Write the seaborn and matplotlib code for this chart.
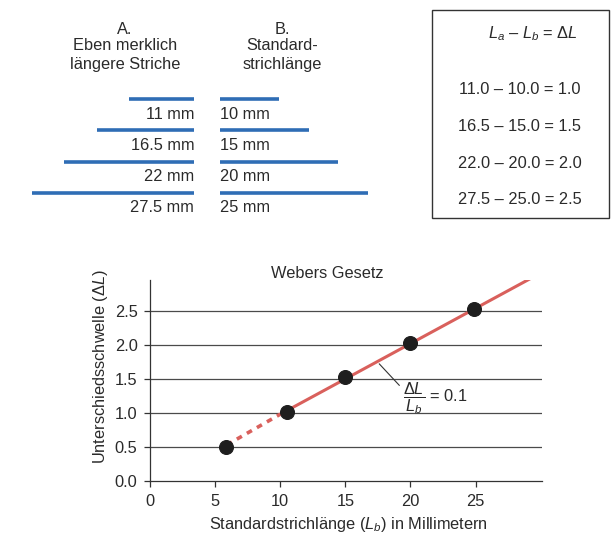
import matplotlib
matplotlib.use("Agg")
import matplotlib.pyplot as plt
from matplotlib.patches import Rectangle
import seaborn as sns
import pandas as pd

# stroke lengths (mm)
longer_mm = [11, 16.5, 22, 27.5]
standard_mm = [10, 15, 20, 25]
longer_labels = ["11 mm", "16.5 mm", "22 mm", "27.5 mm"]
standard_labels = ["10 mm", "15 mm", "20 mm", "25 mm"]
calc_rows = ["11.0 \u2013 10.0 = 1.0", "16.5 \u2013 15.0 = 1.5",
             "22.0 \u2013 20.0 = 2.0", "27.5 \u2013 25.0 = 2.5"]

# Weber plot points
lb_points = [5.8, 10.5, 15.0, 20.0, 24.9]
dl_points = [0.50, 1.02, 1.52, 2.02, 2.53]
solid_x = [10.0, 29.2]
solid_y = [0.98, 2.97]
dashed_x = [5.9, 10.0]
dashed_y = [0.53, 0.98]
x_ticks = [0, 5, 10, 15, 20, 25]
y_ticks = [0.0, 0.5, 1.0, 1.5, 2.0, 2.5]

sns.set_theme(style="white")
plt.rcParams['font.family'] = ['Liberation Sans', 'DejaVu Sans']
plt.rcParams['mathtext.fontset'] = 'custom'
plt.rcParams['mathtext.rm'] = 'Liberation Sans'
plt.rcParams['mathtext.it'] = 'Liberation Sans:italic'

W, H = 612, 539
fig = plt.figure(figsize=(W / 100, H / 100), dpi=100)
txt = '#2a2a2a'
blue = '#2f6db5'
fs = 11.8

def fx(px):
    return px / W

def fy(py):
    return 1 - py / H

# ---- top left: stroke comparison ----
fig.text(fx(125), fy(30), "A.", ha='center', va='center', fontsize=fs, color=txt)
fig.text(fx(125), fy(46), "Eben merklich", ha='center', va='center', fontsize=fs, color=txt)
fig.text(fx(125), fy(64), "längere Striche", ha='center', va='center', fontsize=fs, color=txt)
fig.text(fx(282), fy(30), "B.", ha='center', va='center', fontsize=fs, color=txt)
fig.text(fx(282), fy(46), "Standard-", ha='center', va='center', fontsize=fs, color=txt)
fig.text(fx(282), fy(64), "strichlänge", ha='center', va='center', fontsize=fs, color=txt)

px_per_mm = 5.9
top_px, bot_px, row_px = 85, 215, 31.3
ax_s = fig.add_axes([0, fy(bot_px), fx(420), (bot_px - top_px) / H])
ax_s.set_xlim(-194.3 / px_per_mm, (420 - 194.3) / px_per_mm)
ax_s.set_ylim((bot_px - 99) / row_px, -(99 - top_px) / row_px)
ax_s.axis('off')
gap = 26 / px_per_mm
rows = list(range(len(longer_mm)))
ax_s.hlines(rows, [-v for v in longer_mm], 0, color=blue, lw=2.6)
ax_s.hlines(rows, gap, [gap + v for v in standard_mm], color=blue, lw=2.6)
for r, la, lb in zip(rows, longer_labels, standard_labels):
    ax_s.text(0, r + 0.48, la, ha='right', va='center', fontsize=fs, color=txt)
    ax_s.text(gap, r + 0.48, lb, ha='left', va='center', fontsize=fs, color=txt)

# ---- top right: boxed calculation ----
fig.patches.append(Rectangle((fx(432), fy(218)), fx(609) - fx(432), fy(10) - fy(218),
                             transform=fig.transFigure, fill=False,
                             edgecolor='#333333', lw=1.0))
fig.text(fx(533), fy(34), "$L_a$ \u2013 $L_b$ = \u0394$L$",
         ha='center', va='center', fontsize=fs, color=txt)
for i, row in enumerate(calc_rows):
    fig.text(fx(520), fy(90 + i * 36.5), row, ha='center', va='center', fontsize=fs, color=txt)

# ---- bottom: Weber's law ----
ax = fig.add_axes([fx(150), fy(481), fx(542) - fx(150), (481 - 280) / H])
ax.set_xlim(0, 30.1)
ax.set_ylim(0, 2.95)
for yv in y_ticks[1:]:
    ax.axhline(yv, color='#4a4a4a', lw=0.9, zorder=1)

sns.lineplot(x=solid_x, y=solid_y, ax=ax, color='#d9605c', lw=2.2, zorder=2)
sns.lineplot(x=dashed_x, y=dashed_y, ax=ax, color='#d9605c', lw=2.6,
             linestyle=(0, (1.6, 1.6)), zorder=2)
pts = pd.DataFrame({'Lb': lb_points, 'dL': dl_points})
sns.scatterplot(data=pts, x='Lb', y='dL', ax=ax, s=100, color='#1e1e1e',
                edgecolor='#1e1e1e', zorder=3)

ax.set_xticks(x_ticks)
ax.set_yticks(y_ticks)
ax.set_yticklabels([f"{v:.1f}" for v in y_ticks])
ax.tick_params(axis='both', direction='out', length=4, width=0.9, colors='#333333',
               labelsize=fs, labelcolor=txt, pad=5, left=True, bottom=True)
sns.despine(ax=ax)
for sp in ['left', 'bottom']:
    ax.spines[sp].set_color('#333333')
    ax.spines[sp].set_linewidth(0.9)

ax.set_xlabel("")
ax.set_ylabel("")
fig.text(fx(348), fy(525), r"Standardstrichlänge ($L_b$) in Millimetern",
         ha='center', va='center', fontsize=fs, color=txt)
fig.text(fx(100), fy(367), "Unterschiedsschwelle (\u0394$L$)", rotation=90,
         ha='center', va='center', fontsize=fs, color=txt)
fig.text(fx(327), fy(274), "Webers Gesetz", ha='center', va='center', fontsize=fs, color=txt)

ax.annotate(r"$\dfrac{\Delta L}{L_b}$ = 0.1", xy=(17.6, 1.72), xytext=(19.4, 1.22),
            ha='left', va='center', fontsize=fs, color=txt,
            arrowprops=dict(arrowstyle='-', color='#333333', lw=0.8,
                            shrinkA=0, shrinkB=0, relpos=(0, 0.75)))

fig.savefig("out.png", dpi=100)
